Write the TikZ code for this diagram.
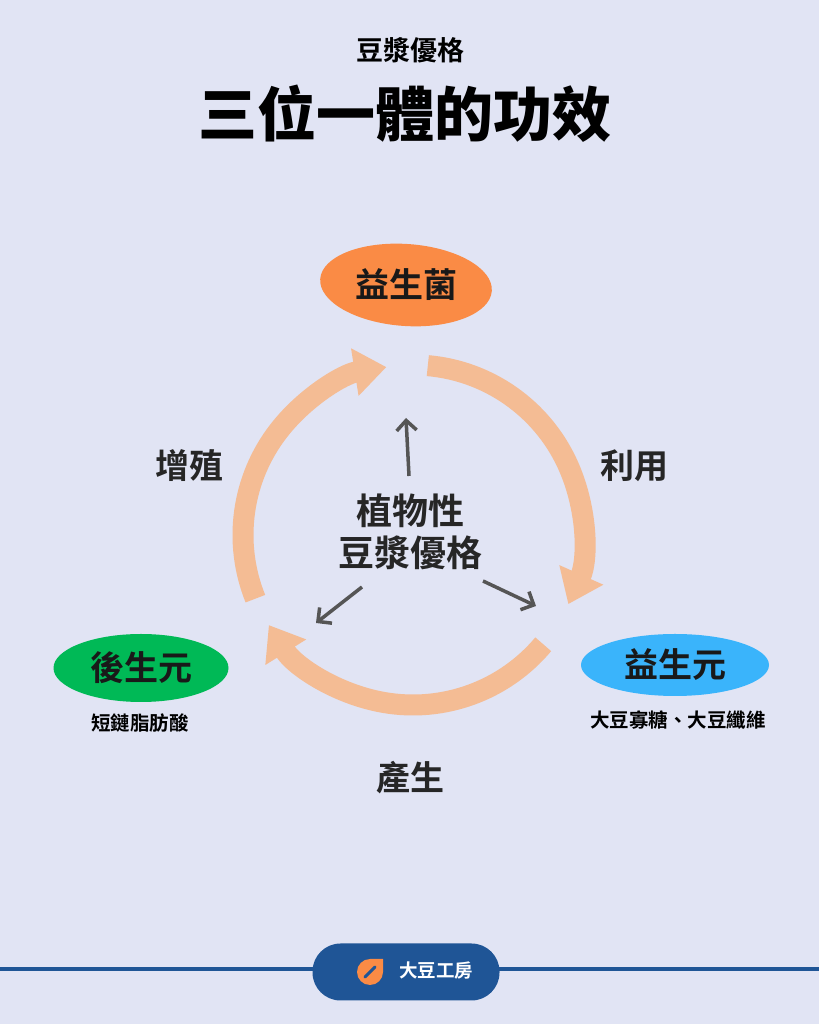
\documentclass[tikz,border=0pt]{standalone}
\usepackage{fontspec}
\newfontfamily\cjk{Noto Sans CJK TC}[BoldFont={* Bold}]
\newfontfamily\cjkb{Noto Sans CJK TC Black}
\usetikzlibrary{arrows.meta,shapes.geometric,calc}
\definecolor{bg}{HTML}{E1E4F4}
\definecolor{peach}{HTML}{F4BC94}
\definecolor{orng}{HTML}{FA8B45}
\definecolor{grn}{HTML}{00B956}
\definecolor{blu}{HTML}{3AB4FB}
\definecolor{navy}{HTML}{1F5596}
\definecolor{dk}{HTML}{555555}
\begin{document}
\begin{tikzpicture}[x=1pt,y=1pt,
  cyc/.style={peach,line width=21pt,-{Triangle[length=32pt,width=46pt]}},
  small/.style={dk,line width=3.5pt,-{Straight Barb[length=10pt,width=20pt]}},
  lab/.style={font=\cjk\bfseries\fontsize{34}{36}\selectfont,text=black!85},
  blob/.style={ellipse,inner sep=0pt,font=\cjk\bfseries\fontsize{34}{36}\selectfont,text=black!90}]
\fill[bg] (0,0) rectangle (819,1024);
\useasboundingbox (0,0) rectangle (819,1024);
\node[font=\cjk\bfseries\fontsize{27}{30}\selectfont] (sub) at (410,974) {豆漿優格};
\node[font=\cjkb\fontsize{59}{62}\selectfont] (title) at (405,910) {三位一體的功效};
% cycle
\coordinate (c) at (413,489);
\draw[cyc] ($(c)+(85:170)$) arc[start angle=85,end angle=-24,radius=170];
\draw[cyc] ($(c)+(-40:170)$) arc[start angle=-40,end angle=-148,radius=170];
\draw[cyc] ($(c)+(-158:170)$) arc[start angle=202,end angle=99,radius=170];
% blobs
\node[blob,fill=orng,minimum width=172pt,minimum height=82pt,rotate=-4] (pro) at (406,739) {\rotatebox{4}{益生菌}};
\node[blob,fill=grn,minimum width=175pt,minimum height=68pt] (post) at (141,356) {後生元};
\node[blob,fill=blu,minimum width=188pt,minimum height=62pt] (pre) at (675,359) {益生元};
\node[font=\cjk\bfseries\fontsize{19.5}{22}\selectfont] (postt) at (140,301) {短鏈脂肪酸};
\node[font=\cjk\bfseries\fontsize{19.5}{22}\selectfont] (pret) at (678,304) {大豆寡糖、大豆纖維};
\node[lab] (l1) at (189,558) {增殖};
\node[lab] (l2) at (634,558) {利用};
\node[lab] (l3) at (410,246) {產生};
\node[font=\cjk\bfseries\fontsize{36}{42}\selectfont,align=center,text=black!85] (mid) at (410,492) {植物性\\豆漿優格};
\coordinate (a1) at (409,548); \coordinate (b1) at (406,606);
\coordinate (a2) at (362,437); \coordinate (b2) at (316,401);
\coordinate (a3) at (483,443); \coordinate (b3) at (536,418);
\draw[small] (a1) -- (b1);
\draw[small] (a2) -- (b2);
\draw[small] (a3) -- (b3);
% footer
\draw[navy,line width=4pt] (0,55) -- (819,55);
\node[fill=navy,rounded corners=28pt,minimum width=187pt,minimum height=57pt] (pill) at (406,52) {};
\fill[orng] (370,65) -- (383,65) -- (383,52) arc[start angle=0,end angle=-270,radius=13] -- cycle;
\draw[navy,line width=3pt,line cap=round] (365,47) -- (375,57);
\node[white,font=\cjk\bfseries\fontsize{18.5}{20}\selectfont] (brand) at (436,53) {大豆工房};
\end{tikzpicture}
\end{document}
